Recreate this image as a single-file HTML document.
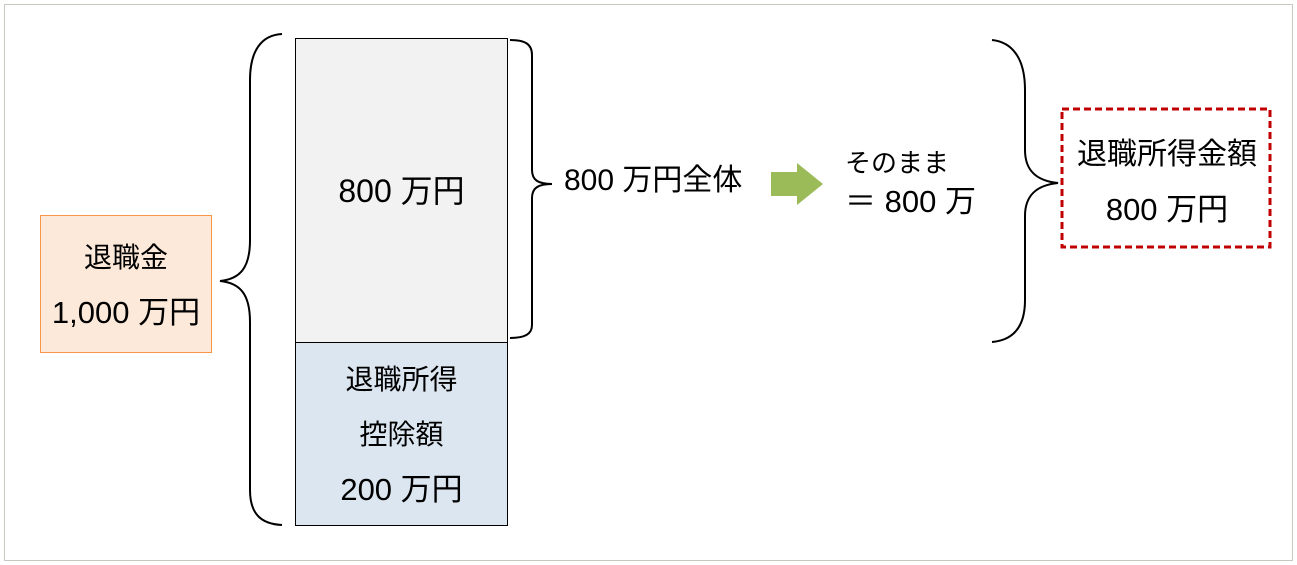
<!DOCTYPE html>
<html><head><meta charset="utf-8"><style>
body{margin:0;width:1297px;height:565px;background:#fff;position:relative;overflow:hidden;font-family:"Liberation Sans","Noto Sans CJK JP",sans-serif;color:#000}
.a{position:absolute;box-sizing:border-box}
.t{position:absolute;white-space:nowrap;line-height:1}
</style></head><body>
<div class="a" style="left:4px;top:4px;width:1289px;height:557px;border:1px solid #c8c8c0"></div>
<div class="a" style="left:40px;top:215px;width:172px;height:138px;background:#fde9d9;border:1px solid #f79646"></div>
<div class="t" style="left:40px;width:172px;text-align:center;top:244px;font-size:28px">退職金</div>
<div class="t" style="left:40px;width:172px;text-align:center;top:297px;font-size:31px">1,000 万円</div>
<div class="a" style="left:295px;top:38px;width:213px;height:305px;background:#f2f2f2;border:1px solid #000"></div>
<div class="a" style="left:295px;top:342px;width:213px;height:184px;background:#dce6f1;border:1px solid #000"></div>
<div class="t" style="left:295px;width:213px;text-align:center;top:175px;font-size:32px">800 万円</div>
<div class="t" style="left:295px;width:213px;text-align:center;top:366px;font-size:28px">退職所得</div>
<div class="t" style="left:295px;width:213px;text-align:center;top:421px;font-size:28px">控除額</div>
<div class="t" style="left:295px;width:213px;text-align:center;top:474px;font-size:31px">200 万円</div>
<svg class="a" style="left:0;top:0" width="1297" height="565">
<g fill="none" stroke="#000" stroke-width="2">
<path d="M282 34 C262 35 250 50 250 80 L250 240 C250 268 240 279 220 281 C240 283 250 294 250 322 L250 490 C250 515 262 524 282 525"/>
<path d="M510 40 C525 40 532 44 532 55 L532 170 C532 180 538 184 552 184 C538 184 532 188 532 198 L532 325 C532 334 525 338 510 338"/>
<path d="M992 40 C1012 42 1025 58 1025 90 L1025 150 C1025 172 1038 181 1058 183 C1038 185 1025 194 1025 216 L1025 300 C1025 325 1015 340 992 342"/>
</g>
<path d="M771 172 L797 172 L797 163 L823 184 L797 205 L797 196 L771 196 Z" fill="#9bbb59"/>
<rect x="1062" y="109" width="208" height="138" fill="none" stroke="#c00000" stroke-width="3" stroke-dasharray="7,4"/>
</svg>
<div class="t" style="left:564px;top:166px;font-size:30px">800 万円全体</div>
<div class="t" style="left:845px;top:150px;font-size:26px">そのまま</div>
<div class="t" style="left:845px;top:186px;font-size:31px">＝ 800 万</div>
<div class="t" style="left:1062px;width:210px;text-align:center;top:140px;font-size:30px">退職所得金額</div>
<div class="t" style="left:1062px;width:210px;text-align:center;top:194px;font-size:31px">800 万円</div>
</body></html>
